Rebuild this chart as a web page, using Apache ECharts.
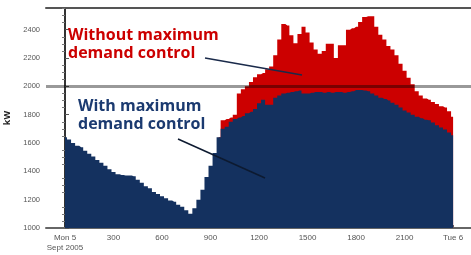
<!DOCTYPE html>
<html>
<head>
<meta charset="utf-8">
<script src="https://cdn.jsdelivr.net/npm/echarts@6/dist/echarts.min.js"></script>
<style>
  html, body { margin: 0; padding: 0; background: #fff; }
  #chart { width: 471px; height: 255px; }
</style>
</head>
<body>
<div id="chart"></div>
<script>
// sample step (hours) and x tick positions / labels
const stepHours = 0.25;
const tickHours = [0, 3, 6, 9, 12, 15, 18, 21, 24];
const tickLabels = ['Mon 5\nSept 2005', '300', '600', '900', '1200', '1500', '1800', '2100', 'Tue 6'];
const yTicks = [1000, 1200, 1400, 1600, 1800, 2000, 2200, 2400];
const demandLimit = 2000;

// kW with maximum demand control, every 15 min from 00:00 Mon 5
const withControl = [
    1640, 1625, 1600, 1580, 1570, 1545, 1525, 1505, 1480, 1460, 1440, 1415,
    1395, 1380, 1375, 1370, 1370, 1365, 1340, 1320, 1295, 1280, 1255, 1240,
    1225, 1210, 1195, 1185, 1165, 1150, 1125, 1100, 1140, 1200, 1270, 1360,
    1440, 1530, 1640, 1700, 1715, 1750, 1770, 1780, 1790, 1810, 1820, 1840,
    1880, 1905, 1870, 1870, 1920, 1935, 1950, 1955, 1960, 1965, 1970, 1950,
    1950, 1955, 1960, 1960, 1955, 1960, 1955, 1960, 1960, 1955, 1960, 1965,
    1975, 1975, 1970, 1965, 1950, 1935, 1920, 1910, 1900, 1885, 1870, 1850,
    1830, 1815, 1800, 1785, 1775, 1765, 1760, 1745, 1725, 1710, 1695, 1675,
    1655
];

// kW without control, from 09:30 onwards (before that identical)
const withoutStart = 9.5;
const withoutControl = [
    1640, 1760, 1770, 1780, 1800, 1950, 1980, 2000, 2030, 2065, 2085, 2095,
    2120, 2140, 2220, 2330, 2440, 2430, 2360, 2305, 2370, 2420, 2380, 2310,
    2260, 2230, 2250, 2300, 2300, 2200, 2290, 2290, 2400, 2410, 2420, 2455,
    2490, 2495, 2495, 2420, 2365, 2330, 2285, 2260, 2220, 2160, 2110, 2060,
    2015, 1965, 1935, 1915, 1905, 1890, 1875, 1860, 1850, 1825, 1785
];

const blueData = withControl.map((v, i) => [i * stepHours, v]);
const redData = withoutControl.map((v, i) => [withoutStart + i * stepHours, v]);

const RED = '#cc0000';
const NAVY = '#14315f';
const labelFont = '"Liberation Sans Narrow", "Liberation Sans", sans-serif';
const titleFont = '"Open Sans", "Noto Sans", sans-serif';

const chart = echarts.init(document.getElementById('chart'));
const option = {
    animation: false,
    grid: { left: 46, right: 0, top: 8, bottom: 27, containLabel: false, outerBoundsMode: 'none' },
    xAxis: [
        {
            type: 'value',
            min: -1.175,
            max: 25.107,
            name: 'Date of sample',
            nameLocation: 'middle',
            nameGap: 18,
            nameTextStyle: { fontFamily: labelFont, fontSize: 9, fontWeight: 'bold', color: '#333' },
            axisLine: { lineStyle: { color: '#666', width: 2 } },
            axisTick: { inside: true, length: 3, customValues: tickHours, lineStyle: { color: '#666' } },
            axisLabel: {
                customValues: tickHours,
                margin: 5,
                fontFamily: labelFont,
                fontSize: 8,
                lineHeight: 10,
                color: '#555',
                formatter: v => tickLabels[tickHours.indexOf(v)]
            },
            splitLine: { show: false }
        },
        {
            type: 'value',
            position: 'top',
            min: -1.175,
            max: 25.107,
            axisLine: { show: true, lineStyle: { color: '#555', width: 2 } },
            axisTick: { show: false },
            axisLabel: { show: false },
            splitLine: { show: false }
        }
    ],
    yAxis: {
        type: 'value',
        min: 1000,
        max: 2553,
        interval: 200,
        name: 'kW',
        nameLocation: 'middle',
        nameGap: 27,
        nameRotate: 90,
        nameTextStyle: { fontFamily: titleFont, fontSize: 9, fontWeight: 'bold', color: '#222' },
        axisLine: { show: true, lineStyle: { color: '#333', width: 2 } },
        axisTick: { inside: true, length: 4, lineStyle: { color: '#555' } },
        minorTick: { show: true, splitNumber: 4, length: -3, lineStyle: { color: '#777' } },
        axisLabel: {
            showMaxLabel: false,
            margin: 6,
            fontFamily: labelFont,
            fontSize: 7.5,
            color: '#555',
            formatter: v => (yTicks.indexOf(v) >= 0 ? String(v) : '')
        },
        splitLine: { show: false }
    },
    series: [
        {
            name: 'Without maximum demand control',
            type: 'line',
            step: 'middle',
            data: redData,
            symbol: 'none',
            lineStyle: { width: 0 },
            areaStyle: { color: RED, opacity: 1, origin: 'start' }
        },
        {
            name: 'With maximum demand control',
            type: 'line',
            step: 'middle',
            data: blueData,
            symbol: 'none',
            lineStyle: { width: 0 },
            areaStyle: { color: NAVY, opacity: 1, origin: 'start' },
            markLine: {
                silent: true,
                symbol: 'none',
                label: { show: false },
                lineStyle: { color: 'rgba(0,0,0,0.4)', width: 3, type: 'solid' },
                data: [{ yAxis: demandLimit }]
            }
        }
    ],
    graphic: [
        {
            type: 'text', left: 68, top: 26, z: 100,
            style: {
                text: 'Without maximum\ndemand control',
                fill: RED, font: 'bold 16px ' + titleFont, lineHeight: 18
            }
        },
        {
            type: 'text', left: 78, top: 97, z: 100,
            style: {
                text: 'With maximum\ndemand control',
                fill: '#1b3a70', font: 'bold 16px ' + titleFont, lineHeight: 18
            }
        },
        {
            type: 'line', z: 100,
            shape: { x1: 205, y1: 58, x2: 302, y2: 75 },
            style: { stroke: '#1a2a4a', lineWidth: 1.5 }
        },
        {
            type: 'line', z: 100,
            shape: { x1: 178, y1: 139, x2: 265, y2: 178 },
            style: { stroke: '#0d1a30', lineWidth: 1.5 }
        }
    ]
};
chart.setOption(option);
</script>
</body>
</html>
